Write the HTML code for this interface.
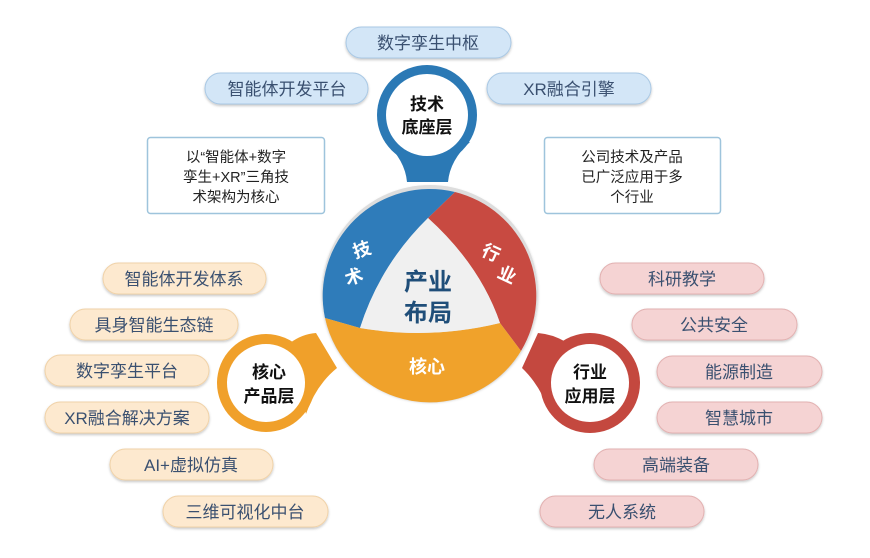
<!DOCTYPE html>
<html><head><meta charset="utf-8"><style>
html,body{margin:0;padding:0;background:#fff;}
svg{display:block;}
text{font-family:"Liberation Sans","Noto Sans CJK SC",sans-serif;}
</style></head><body>
<svg width="870" height="558" viewBox="0 0 870 558" xmlns="http://www.w3.org/2000/svg">
<defs>
<filter id="sh" x="-10%" y="-30%" width="120%" height="160%"><feDropShadow dx="0" dy="1.5" stdDeviation="1.2" flood-color="#000" flood-opacity="0.22"/></filter>
</defs>
<rect width="870" height="558" fill="#fff"/>

<!-- pills top (blue) -->
<g filter="url(#sh)" fill="#d3e6f7" stroke="#a9c8e4" stroke-width="1">
<rect x="346" y="27" width="165" height="31" rx="15.5"/>
<rect x="205" y="73" width="163" height="31" rx="15.5"/>
<rect x="487" y="73" width="164" height="31" rx="15.5"/>
</g>
<g font-size="17" fill="#3a5070" text-anchor="middle">
<text x="428" y="49">数字孪生中枢</text>
<text x="287" y="95">智能体开发平台</text>
<text x="569" y="95">XR融合引擎</text>
</g>

<!-- boxes -->
<rect x="147.5" y="137.5" width="177" height="76" rx="3" fill="#fff" stroke="#9ec4dc" stroke-width="1.5"/>
<rect x="544.5" y="137.5" width="176" height="76" rx="3" fill="#fff" stroke="#9ec4dc" stroke-width="1.5"/>
<g font-size="14.5" fill="#222" text-anchor="middle">
<text x="236" y="162">以“智能体+数字</text>
<text x="236" y="182">孪生+XR”三角技</text>
<text x="236" y="202">术架构为核心</text>
<text x="632" y="162">公司技术及产品</text>
<text x="632" y="182">已广泛应用于多</text>
<text x="632" y="202">个行业</text>
</g>

<!-- left pills (orange) -->
<g filter="url(#sh)" fill="#fde9cf" stroke="#f0d2a8" stroke-width="1">
<rect x="103" y="263" width="163" height="31" rx="15.5"/>
<rect x="70" y="309" width="168" height="31" rx="15.5"/>
<rect x="45" y="355" width="164" height="31" rx="15.5"/>
<rect x="45" y="402" width="164" height="31" rx="15.5"/>
<rect x="110" y="449" width="163" height="31" rx="15.5"/>
<rect x="163" y="496" width="165" height="31" rx="15.5"/>
</g>
<g font-size="17" fill="#3a5070" text-anchor="middle">
<text x="184" y="285">智能体开发体系</text>
<text x="154" y="331">具身智能生态链</text>
<text x="127" y="377">数字孪生平台</text>
<text x="127" y="424">XR融合解决方案</text>
<text x="191" y="471">AI+虚拟仿真</text>
<text x="245" y="518">三维可视化中台</text>
</g>

<!-- right pills (red) -->
<g filter="url(#sh)" fill="#f5d3d3" stroke="#e2b1b1" stroke-width="1">
<rect x="600" y="263" width="164" height="31" rx="15.5"/>
<rect x="632" y="309" width="165" height="31" rx="15.5"/>
<rect x="657" y="356" width="165" height="31" rx="15.5"/>
<rect x="657" y="402" width="165" height="31" rx="15.5"/>
<rect x="594" y="449" width="164" height="31" rx="15.5"/>
<rect x="540" y="496" width="164" height="31" rx="15.5"/>
</g>
<g font-size="17" fill="#3a5070" text-anchor="middle">
<text x="682" y="285">科研教学</text>
<text x="714" y="331">公共安全</text>
<text x="739" y="378">能源制造</text>
<text x="739" y="424">智慧城市</text>
<text x="676" y="471">高端装备</text>
<text x="622" y="518">无人系统</text>
</g>

<!-- top pin -->
<circle cx="427" cy="115" r="50" fill="#2b79b5"/>
<path d="M385,142 Q405,160 407,182 L448,182 Q450,160 470,142 Z" fill="#2b79b5"/>
<circle cx="427" cy="115" r="41" fill="#fff"/>
<g font-size="17" font-weight="bold" fill="#111" text-anchor="middle">
<text x="427" y="110">技术</text>
<text x="427" y="133">底座层</text>
</g>

<!-- left pin -->
<circle cx="266" cy="383" r="49" fill="#f0a02a"/>
<path d="M290,343 Q302,334 316,333 L337,368 Q316,385 306,414 Z" fill="#f0a02a"/>
<circle cx="266" cy="383" r="39" fill="#fff"/>
<g font-size="17" font-weight="bold" fill="#111" text-anchor="middle">
<text x="269" y="378">核心</text>
<text x="269" y="402">产品层</text>
</g>

<!-- right pin -->
<circle cx="590" cy="383" r="50" fill="#c4483f"/>
<path d="M566,342 Q552,334 538,333 L522,368 Q540,385 550,413 Z" fill="#c4483f"/>
<circle cx="590" cy="383" r="39" fill="#fff"/>
<g font-size="17" font-weight="bold" fill="#111" text-anchor="middle">
<text x="590" y="378">行业</text>
<text x="590" y="402">应用层</text>
</g>

<!-- central circle -->
<circle cx="430" cy="293" r="108" fill="#ddd" filter="url(#sh)"/>
<path d="M325,318 A107,107 0 0 1 455,192 L428,218 Q380,265 360,328 Z" fill="#2f7cba"/>
<path d="M455,192 A107,107 0 0 1 521,351 L500,323 Q480,265 428,218 Z" fill="#c84a41"/>
<path d="M521,351 A107,107 0 0 1 325,318 L360,328 Q430,340 500,323 Z" fill="#f0a22b"/>
<path d="M428,218 Q480,265 500,323 Q430,340 360,328 Q380,265 428,218 Z" fill="#f0f0f0"/>
<g font-size="24" font-weight="bold" fill="#1f4e79" text-anchor="middle">
<text x="428" y="290">产业</text>
<text x="428" y="321">布局</text>
</g>
<g font-size="18" font-weight="bold" fill="#fff" text-anchor="middle">
<text x="362" y="256" transform="rotate(-18 362 250)">技</text>
<text x="354" y="283" transform="rotate(-18 354 277)">术</text>
<text x="491" y="259" transform="rotate(25 491 253)">行</text>
<text x="507" y="281" transform="rotate(25 507 275)">业</text>
<text x="427" y="373">核心</text>
</g>
</svg>
</body></html>
